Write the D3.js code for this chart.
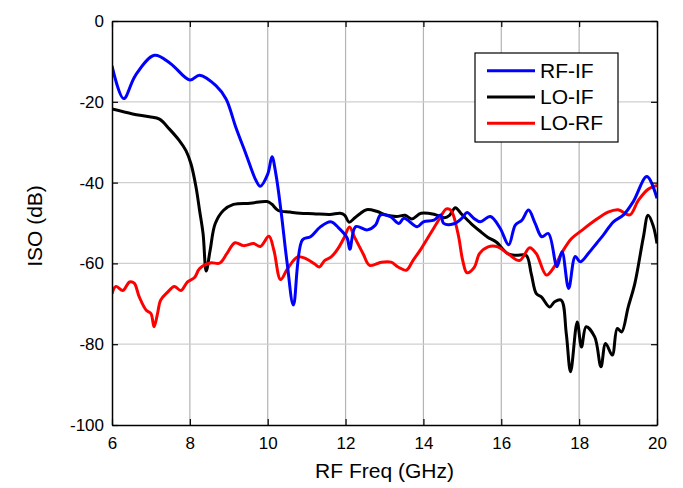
<!DOCTYPE html>
<html>
<head>
<meta charset="utf-8">
<script src="https://cdn.jsdelivr.net/npm/d3@7"></script>
<style>
body { margin: 0; background: #fff; }
text { font-family: "Liberation Sans", Arial, sans-serif; fill: #000; }
</style>
</head>
<body>
<div id="chart"></div>
<script>
// frequency (GHz) and isolation (dB)
var rfIfFreq = [6.0, 6.3, 6.6, 7.09, 7.5, 8.0, 8.25, 8.67, 8.93, 9.18, 9.44, 9.7, 9.81, 10.0, 10.11, 10.21, 10.34, 10.5, 10.66, 10.89, 11.1, 11.36, 11.62, 11.82, 12.04, 12.11, 12.26, 12.56, 12.77, 12.9, 13.15, 13.37, 13.5, 13.84, 14.0, 14.27, 14.44, 14.52, 14.78, 14.99, 15.12, 15.29, 15.46, 15.72, 15.97, 16.19, 16.36, 16.53, 16.7, 16.87, 17.04, 17.21, 17.43, 17.56, 17.73, 17.9, 18.03, 18.24, 18.45, 18.62, 18.88, 19.14, 19.39, 19.74, 20.0];
var rfIfVal = [-11.1, -19.2, -13.5, -8.5, -10.5, -14.6, -13.4, -16.0, -19.3, -26.3, -32.9, -39.5, -40.9, -37.9, -33.6, -37.9, -46.9, -60, -70.3, -54.2, -53.4, -50.9, -49.7, -51.2, -53.7, -56.5, -50.9, -51.7, -50.5, -48.0, -48.4, -50.1, -48.8, -50.9, -49.7, -49.3, -48.0, -50.1, -50.2, -48.8, -47.4, -48.8, -49.7, -48.4, -51.3, -55.4, -50.5, -49.3, -46.8, -50.1, -53.4, -52.6, -60.8, -57.1, -66.2, -58.3, -59.6, -57.5, -55.0, -53.0, -49.7, -48.0, -44.7, -38.5, -43.9];

var loIfFreq = [6.0, 6.53, 6.96, 7.22, 7.47, 7.73, 7.9, 8.03, 8.16, 8.25, 8.34, 8.42, 8.52, 8.65, 8.86, 9.12, 9.55, 9.98, 10.1, 10.27, 10.57, 10.83, 11.17, 11.6, 11.86, 11.98, 12.09, 12.24, 12.37, 12.54, 12.8, 13.06, 13.31, 13.53, 13.7, 13.94, 14.29, 14.54, 14.67, 14.82, 14.97, 15.23, 15.49, 15.65, 15.87, 16.17, 16.38, 16.64, 16.77, 16.9, 17.03, 17.24, 17.37, 17.54, 17.67, 17.78, 17.95, 18.06, 18.18, 18.4, 18.56, 18.68, 18.85, 18.98, 19.09, 19.26, 19.43, 19.65, 19.77, 19.9, 20.0];
var loIfVal = [-21.8, -23.0, -23.7, -24.3, -26.7, -29.6, -32.1, -35.4, -41.2, -46.9, -52.7, -61.9, -56.8, -50.2, -46.9, -45.4, -45.1, -44.7, -45.3, -46.9, -47.3, -47.6, -47.7, -47.9, -47.6, -48.1, -49.8, -48.7, -47.7, -46.7, -47.1, -48.1, -48.4, -48.1, -49.0, -47.6, -47.9, -48.7, -48.1, -46.2, -47.7, -50.2, -52.3, -53.5, -54.7, -57.6, -58.0, -58.0, -62.6, -67.5, -68.3, -70.8, -69.5, -69.1, -77.4, -86.8, -74.5, -80.7, -75.7, -78.2, -85.6, -79.8, -82.7, -76.1, -77.0, -70.8, -65.0, -53.5, -48.1, -50.6, -55.1];

var loRfFreq = [6.0, 6.1, 6.28, 6.45, 6.57, 6.7, 6.88, 7.0, 7.08, 7.17, 7.25, 7.43, 7.6, 7.77, 7.94, 8.12, 8.25, 8.52, 8.77, 8.95, 9.16, 9.38, 9.64, 9.81, 10.03, 10.16, 10.33, 10.51, 10.77, 10.98, 11.2, 11.33, 11.46, 11.63, 11.8, 11.97, 12.1, 12.23, 12.45, 12.62, 12.92, 13.17, 13.35, 13.56, 13.73, 13.94, 14.2, 14.41, 14.59, 14.71, 14.89, 15.01, 15.12, 15.31, 15.44, 15.66, 15.91, 16.17, 16.47, 16.73, 16.9, 17.16, 17.37, 17.59, 17.8, 18.06, 18.4, 18.74, 19.0, 19.3, 19.52, 19.78, 20.0];
var loRfVal = [-67.5, -65.7, -66.7, -64.6, -64.9, -68.3, -71.6, -72.4, -75.7, -72.4, -69.1, -67.1, -65.7, -66.7, -64.6, -63.5, -61.3, -59.9, -59.9, -57.6, -54.9, -55.6, -55.1, -55.8, -53.3, -56.8, -64.0, -61.3, -58.4, -58.8, -60.1, -60.9, -59.3, -58.4, -56.4, -53.5, -51.0, -53.5, -57.6, -60.5, -59.7, -59.7, -60.9, -61.7, -59.3, -56.4, -52.3, -49.0, -46.5, -46.9, -52.7, -59.3, -62.3, -60.9, -57.6, -55.9, -55.9, -57.6, -59.3, -56.1, -57.6, -62.9, -60.7, -56.8, -53.9, -51.9, -49.4, -47.3, -46.7, -48.0, -44.4, -41.6, -40.7];

var seriesNames = ["RF-IF", "LO-IF", "LO-RF"];
var seriesColors = ["#0000ff", "#000000", "#ff0000"];
var xTicks = [6, 8, 10, 12, 14, 16, 18, 20];
var yTicks = [0, -20, -40, -60, -80, -100];

var width = 683, height = 488;
var margin = {top: 21, right: 26, bottom: 63, left: 112};
var w = width - margin.left - margin.right;
var h = height - margin.top - margin.bottom;

var svg = d3.select("#chart").append("svg")
	.attr("width", width)
	.attr("height", height);
var g = svg.append("g")
	.attr("transform", "translate(" + margin.left + "," + margin.top + ")");

var x = d3.scaleLinear().domain([6, 20]).range([0, w]);
var y = d3.scaleLinear().domain([-100, 0]).range([h, 0]);

// grid
g.append("g").selectAll("line").data(xTicks.slice(1, -1)).enter().append("line")
	.attr("x1", d => x(d)).attr("x2", d => x(d))
	.attr("y1", 0).attr("y2", h)
	.attr("stroke", "#b4b4b4").attr("stroke-width", 1.2);
g.append("g").selectAll("line").data(yTicks.slice(1, -1)).enter().append("line")
	.attr("x1", 0).attr("x2", w)
	.attr("y1", d => y(d)).attr("y2", d => y(d))
	.attr("stroke", "#cfcfcf").attr("stroke-width", 1.2);

// curves
var data = [
	d3.zip(rfIfFreq, rfIfVal),
	d3.zip(loIfFreq, loIfVal),
	d3.zip(loRfFreq, loRfVal)
];
var line = d3.line()
	.x(d => x(d[0]))
	.y(d => y(d[1]))
	.curve(d3.curveCatmullRom.alpha(0.5));

svg.append("clipPath").attr("id", "clip")
	.append("rect").attr("width", w).attr("height", h);
var plot = g.append("g").attr("clip-path", "url(#clip)");
// black first, then red, blue on top
[1, 2, 0].forEach(function(i) {
	plot.append("path")
		.datum(data[i])
		.attr("d", line)
		.attr("fill", "none")
		.attr("stroke", seriesColors[i])
		.attr("stroke-width", 3)
		.attr("stroke-linejoin", "round");
});

// axes, ticks pointing inward, plain hyphen minus
var fmt = d => String(d);
g.append("g").attr("transform", "translate(0," + h + ")")
	.call(d3.axisBottom(x).tickValues(xTicks).tickFormat(fmt).tickSizeInner(-6).tickSizeOuter(0).tickPadding(12));
g.append("g")
	.call(d3.axisLeft(y).tickValues(yTicks).tickFormat(fmt).tickSizeInner(-6).tickSizeOuter(0).tickPadding(8));
g.append("g")
	.call(d3.axisTop(x).tickValues(xTicks).tickSizeInner(-6).tickSizeOuter(0).tickFormat(""));
g.append("g").attr("transform", "translate(" + w + ",0)")
	.call(d3.axisRight(y).tickValues(yTicks).tickSizeInner(-6).tickSizeOuter(0).tickFormat(""));
g.selectAll(".domain").attr("stroke", "#000").attr("stroke-width", 1.5);
g.selectAll(".tick line").attr("stroke", "#000").attr("stroke-width", 1.2);
g.selectAll(".tick text").style("font-size", "17px").attr("fill", "#000")
	.style("font-family", "'Liberation Sans', Arial, sans-serif");

// axis titles
svg.append("text")
	.attr("x", margin.left + w / 2)
	.attr("y", 478)
	.attr("text-anchor", "middle")
	.style("font-size", "21px")
	.text("RF Freq (GHz)");
svg.append("text")
	.attr("transform", "translate(42,226) rotate(-90)")
	.attr("text-anchor", "middle")
	.style("font-size", "21px")
	.text("ISO (dB)");

// legend
var legend = g.append("g").attr("transform", "translate(" + (475 - margin.left) + "," + (53 - margin.top) + ")");
legend.append("rect")
	.attr("width", 143).attr("height", 89)
	.attr("fill", "#fff").attr("stroke", "#000").attr("stroke-width", 1.2);
seriesNames.forEach(function(name, i) {
	var ly = 17.7 + i * 26.3;
	legend.append("line")
		.attr("x1", 12).attr("x2", 60)
		.attr("y1", ly).attr("y2", ly)
		.attr("stroke", seriesColors[i]).attr("stroke-width", 3);
	legend.append("text")
		.attr("x", 65).attr("y", ly + 7)
		.style("font-size", "21px")
		.text(name);
});
</script>
</body>
</html>
